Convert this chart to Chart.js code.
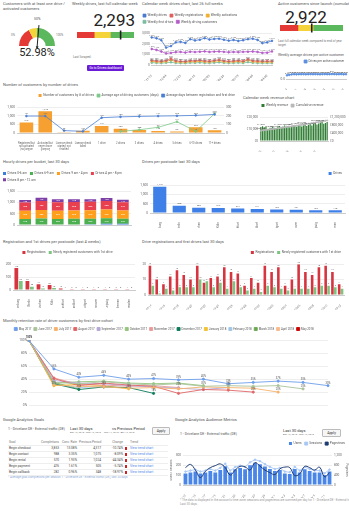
<!DOCTYPE html>
<html>
<head>
<meta charset="utf-8">
<title>Drivers dashboard</title>
<script src="https://cdn.jsdelivr.net/npm/chart.js@4.4.1/dist/chart.umd.min.js"></script>
<style>
  html, body { margin: 0; padding: 0; background: #fff; }
  #page { position: relative; width: 349px; height: 511px; overflow: hidden; font-family: Roboto, "Open Sans", sans-serif; color: #333; }
  .t { position: absolute; font-size: 4px; line-height: 5px; color: #555; white-space: nowrap; }
  .s { position: absolute; font-size: 3px; line-height: 3.6px; color: #777; white-space: nowrap; }
  .big { position: absolute; font-size: 17px; line-height: 17px; color: #222; white-space: nowrap; }
  canvas { position: absolute; }
  .btn { position: absolute; background: #6a1bd6; color: #fff; font-size: 3px; line-height: 6px; text-align: center; border-radius: 1px; }
  .apply { position: absolute; border: 0.5px solid #bbb; background: #f6f6f6; color: #333; font-size: 3.5px; line-height: 6px; text-align: center; border-radius: 1px; }
  table.ga { position: absolute; border-collapse: collapse; table-layout: fixed; font-size: 3.2px; color: #444; }
  table.ga td, table.ga th { padding: 0 1px; height: 5px; line-height: 5px; white-space: nowrap; overflow: hidden; border-bottom: 0.5px solid #eee; }
  table.ga th { font-weight: normal; color: #777; }
  table.ga td.n, table.ga th.n { text-align: right; }
  .flag { display: inline-block; width: 2px; height: 3px; background: #d02020; vertical-align: middle; }
  .trend { color: #4a86e8; }
</style>
</head>
<body>
<div id="page">
  <!-- titles and headline numbers -->
  <div class="t" style="left:3px;top:1px;">Customers with at least one drive /<br>activated customers</div>
  <div class="s" style="left:34px;top:18px;font-size:3.5px;color:#555;">50%</div>
  <div class="s" style="left:11px;top:34px;">0%</div>
  <div class="s" style="left:56px;top:34px;">100%</div>
  <div class="big" id="shareText" style="left:0;width:74px;text-align:center;top:47px;font-size:11px;line-height:11px;"></div>

  <div class="t" style="left:72px;top:1px;">Weekly drives, last full calendar week</div>
  <div class="big" id="weeklyText" style="left:85px;width:50px;text-align:right;top:12px;"></div>
  <div class="s" style="left:73px;top:56px;">Last Scraped:</div>
  <div class="btn" style="left:87px;top:65px;width:37px;height:6px;">Go to Drivers dashboard</div>

  <div class="t" style="left:142px;top:1px;">Calendar week drives chart, last 26 full weeks</div>

  <div class="t" style="left:278px;top:1px;">Active customers since launch (cumulatively)</div>
  <div class="big" id="activeText" style="left:276px;width:60px;text-align:center;top:9px;"></div>
  <div class="s" style="left:278px;top:40px;">Last full calendar week compared to end of year<br>target</div>
  <div class="t" style="left:278px;top:53px;font-size:3.5px;">Weekly average drives per active customer</div>

  <div class="t" style="left:3px;top:82px;">Number of customers by number of drives</div>
  <div class="t" style="left:243px;top:95px;">Calendar week revenue chart</div>

  <div class="t" style="left:3px;top:159px;">Hourly drives per bucket, last 30 days</div>
  <div class="t" style="left:142px;top:159px;">Drives per postcode last 30 days</div>

  <div class="t" style="left:3px;top:239px;">Registration and 1st drives per postcode (last 4 weeks)</div>
  <div class="t" style="left:142px;top:239px;">Drive registrations and first drives last 30 days</div>

  <div class="t" style="left:3px;top:318px;">Monthly retention rate of driver customers by first drive cohort</div>

  <div class="t" style="left:3px;top:417px;">Google Analytics Goals</div>
  <div class="t" style="left:175px;top:417px;">Google Analytics Audience Metrics</div>

  <div class="t" style="left:8px;top:427px;font-size:3.5px;">1 - Drivelane DE - External traffic (DE)</div>
  <div class="t" style="left:70px;top:426px;font-size:4px;color:#333;">Last 30 days</div>
  <div class="s" style="left:70px;top:431px;font-size:2.5px;">Apr 13, 2018 - May 12, 2018</div>
  <div class="t" style="left:112px;top:426px;font-size:4px;color:#333;">vs Previous Period</div>
  <div class="s" style="left:104px;top:431px;font-size:2.5px;">Mar 14, 2018 - Apr 12, 2018</div>
  <div class="apply" style="left:152px;top:427px;width:16px;height:6px;">Apply</div>
  <div class="s" style="left:8px;top:476px;color:#8aa9d6;">* Average goal completions per session 1 - Drivelane DE - External traffic (DE), last 30 days</div>

  <div class="t" style="left:180px;top:432px;font-size:3.5px;">1 - Drivelane DE - External traffic (DE)</div>
  <div class="t" style="left:283px;top:428px;font-size:4px;color:#333;">Last 30 days</div>
  <div class="s" style="left:283px;top:433px;font-size:2.5px;">Apr 13, 2018 - May 12, 2018</div>
  <div class="apply" style="left:322px;top:429px;width:17px;height:6px;">Apply</div>
  <div class="s" style="left:180px;top:499px;color:#999;">* The data is displayed in the account's time zone; sessions and pageviews are summed per day for 1 - Drivelane DE - External traffic (DE).<br>Last 30 days.</div>
</div>

<script>
// ---- headline figures ----
const ACTIVE_SHARE = 52.98;                  // % of activated customers with at least one drive
const SHARE_BANDS = [35, 15, 50];            // red / yellow / green segments of the gauge
const WEEKLY_DRIVES_LAST = 2293;
const WEEKLY_BANDS = [900, 850, 1250];       // red / yellow / green, scale 0..3,000
const WEEKLY_TARGET_TICKS = [0, 2500];
const ACTIVE_CUSTOMERS = 2922;
const ACTIVE_BANDS = [1650, 1400, 2750];     // red / yellow / green, scale 0..5,800
const ACTIVE_TARGET_TICKS = [5000];

// ---- weekly drives (last 26 calendar weeks) ----
const WEEKS = ['2017-11-13','2017-11-20','2017-11-27','2017-12-04','2017-12-11','2017-12-18','2017-12-25','2018-01-01','2018-01-08','2018-01-15','2018-01-22','2018-01-29','2018-02-05','2018-02-12','2018-02-19','2018-02-26','2018-03-05','2018-03-12','2018-03-19','2018-03-26','2018-04-02','2018-04-09','2018-04-16','2018-04-23','2018-04-30','2018-05-07'];
const WEEKLY_DRIVES = [2620, 2540, 2350, 1650, 1800, 2150, 2200, 2100, 2450, 2330, 2400, 2550, 2420, 2480, 2500, 2400, 2310, 2380, 2280, 2350, 2450, 2500, 2380, 2080, 2150, 2293];
const WEEKLY_REGISTRATIONS = [430, 380, 350, 420, 600, 380, 350, 330, 410, 390, 450, 380, 360, 420, 500, 390, 350, 380, 420, 360, 550, 400, 380, 350, 370, 360];
const WEEKLY_ACTIVATIONS = [350, 300, 280, 330, 480, 300, 290, 260, 330, 310, 360, 300, 290, 340, 400, 310, 290, 300, 340, 290, 450, 320, 300, 280, 290, 280];
const WEEKLY_FIRST_DRIVES = [220, 200, 180, 210, 260, 190, 180, 170, 210, 200, 230, 190, 185, 215, 250, 200, 180, 190, 215, 185, 270, 205, 190, 180, 185, 175];
const WEEKLY_DRIVING_CUSTOMERS = [1520, 1430, 1280, 1100, 1150, 1220, 1240, 1180, 1260, 1230, 1260, 1290, 1240, 1270, 1280, 1250, 1210, 1240, 1220, 1250, 1260, 1280, 1240, 1150, 1170, 1290];
const DRIVES_PER_ACTIVE = [0.62, 0.70, 0.78, 0.80, 0.79, 0.81, 0.80, 0.82, 0.79, 0.81, 0.83, 0.80, 0.82, 0.81, 0.79, 0.82, 0.83, 0.80, 0.81, 0.84, 0.82, 0.80, 0.81, 0.83, 0.79, 0.80];

// ---- customers by number of drives ----
const DRIVE_BUCKETS = [
  ['Registered but', 'not activated', '(no licence', 'check)'],
  ['Activated but', 'never drove', '(licence', 'checked)'],
  ['Licence check', 'started, not', 'finished'],
  ['Licence check', 'failed'],
  '1 drive', '2 drives', '3 drives', '4 drives', '5 drives', '6-10 drives', '11+ drives'
];
const CUSTOMERS_PER_BUCKET = [610, 1270, 20, 130, 410, 250, 170, 110, 80, 330, 160];
const AVG_DAYS_TO_FIRST_DRIVE = [197, 197, 28, 19, 178, 188, 193, 197, 200, 205, 216];
const AVG_AGE_DAYS = [null, null, null, null, null, 19, 38, 66, 131, 19, 225];

// ---- weekly revenue ----
const REVENUE_WEEKS = ['2017-32','2017-33','2017-34','2017-35','2017-36','2017-37','2017-38','2017-39','2017-40','2017-41','2017-42','2017-43','2017-44','2017-45','2017-46','2017-47','2017-48','2017-49','2017-50','2017-51','2017-52','2018-01','2018-02','2018-03','2018-04','2018-05','2018-06','2018-07','2018-08','2018-09','2018-10','2018-11','2018-12','2018-13','2018-14','2018-15','2018-16','2018-17','2018-18','2018-19'];
const WEEKLY_REVENUE = [11800, 12400, 11500, 12100, 9800, 10500, 11200, 12000, 11000, 10800, 11900, 12600, 11300, 12200, 13000, 11800, 12500, 11600, 12300, 13100, 12800, 12000, 13400, 12900, 12100, 13200, 13800, 12600, 13500, 14200, 13000, 14600, 15200, 13900, 14800, 15600, 17200, 14500, 15100, 16000];
const CUMULATIVE_REVENUE = [520000, 533000, 546000, 558000, 569000, 580000, 592000, 604000, 616000, 627000, 639000, 652000, 664000, 676000, 689000, 701000, 714000, 726000, 739000, 752000, 765000, 778000, 791000, 804000, 817000, 830000, 844000, 857000, 871000, 885000, 899000, 914000, 929000, 943000, 958000, 974000, 991000, 1006000, 1021000, 1037000];

// ---- hourly buckets ----
const WEEKDAYS = ['Monday', 'Tuesday', 'Wednesday', 'Thursday', 'Friday', 'Saturday', 'Sunday'];
const HOUR_BUCKETS = ['Drives 0-6 am', 'Drives 6-9 am', 'Drives 9 am - 4 pm', 'Drives 4 pm - 8 pm', 'Drives 8 pm - 12 am'];
const DRIVES_NIGHT = [25, 22, 20, 24, 30, 58, 52];
const DRIVES_MORNING = [245, 270, 250, 255, 250, 240, 230];
const DRIVES_DAY = [365, 380, 370, 365, 375, 390, 360];
const DRIVES_EVENING = [365, 400, 380, 385, 380, 385, 370];
const DRIVES_LATE = [120, 140, 130, 125, 120, 135, 110];

// ---- postcodes ----
const POSTCODES = ['20095 Hamburg', '10115 Berlin', '80331 München', '50667 Köln', '60311 Frankfurt', '40213 Düsseldorf', '70173 Stuttgart', '30159 Hannover', '04109 Leipzig', '28195 Bremen'];
const DRIVES_PER_POSTCODE = [1410, 388, 280, 272, 247, 211, 190, 181, 152, 148];
const REG_POSTCODES = ['Hamburg', 'Berlin', 'München', 'Köln', 'Frankfurt', 'Düsseldorf', 'Stuttgart', 'Hannover', 'Leipzig', 'Bremen', 'Dresden'];
const REGISTRATIONS_PER_POSTCODE = [170, 69, 44, 38, 12, 2, 1, 1, 1, 2, 1];
const FIRST_DRIVES_PER_POSTCODE = [69, 25, 12, 15, 4, 0, 0, 0, 0, 0, 0];

// ---- daily registrations (last 30 days) ----
const DAYS = ['2018-04-14','2018-04-15','2018-04-16','2018-04-17','2018-04-18','2018-04-19','2018-04-20','2018-04-21','2018-04-22','2018-04-23','2018-04-24','2018-04-25','2018-04-26','2018-04-27','2018-04-28','2018-04-29','2018-04-30','2018-05-01','2018-05-02','2018-05-03','2018-05-04','2018-05-05','2018-05-06','2018-05-07','2018-05-08','2018-05-09','2018-05-10','2018-05-11','2018-05-12'];
const DAILY_REGISTRATIONS = [19, 10, 7, 12, 16, 13, 10, 19, 8, 11, 12, 18, 15, 14, 6, 11, 8, 19, 15, 18, 6, 10, 20, 15, 13, 18, 19, 15, 7];
const DAILY_FIRST_DRIVES = [6, 1, 4, 3, 5, 5, 5, 10, 9, 5, 8, 4, 9, 5, 3, 4, 2, 6, 5, 4, 3, 4, 4, 4, 5, 6, 6, 5, 4];

// ---- retention by first drive cohort ----
const MONTHS_SINCE = ['0','1','2','3','4','5','6','7','8','9','10','11','12'];
const COHORTS = ['May 2017','June 2017','July 2017','August 2017','September 2017','October 2017','November 2017','December 2017','January 2018','February 2018','March 2018','April 2018','May 2018'];
const RET_MAY17 = [100, 56, 43, 46, 40, 41, 39, 40, 33, 35, 37, 35, 30];
const RET_JUN17 = [100, 35, 33, 36, 33, 31, 33, 29, 30, 29, 30, 25];
const RET_JUL17 = [100, 31, 29, 28, 26, 27, 25, 28, 27, 26, 20];
const RET_AUG17 = [100, 41, 30, 34, 31, 29, 18, 24, 23, 20];
const RET_SEP17 = [100, 38, 34, 33, 30, 28, 26, 24, 27];
const RET_OCT17 = [100, 34, 36, 37, 34, 33, 34, 30];
const RET_NOV17 = [100, 42, 32, 31, 29, 30, 27];
const RET_DEC17 = [100, 33, 24, 28, 27, 18];
const RET_JAN18 = [100, 30, 32, 30, 25];
const RET_FEB18 = [100, 32, 27, 29];
const RET_MAR18 = [100, 35, 25];
const RET_APR18 = [100, 30];
const RET_MAY18 = [100];

// ---- Google Analytics ----
const GOALS = ['Begin checkout', 'Begin contact', 'Begin rental', 'Begin payment', 'Begin callback'];
const GOAL_COMPLETIONS = ['3,853', '988', '570', '476', '282'];
const GOAL_CONV_RATES = ['13.08%', '3.35%', '1.93%', '1.61%', '0.96%'];
const GOAL_PREVIOUS = ['4,317', '1,075', '1,024', '505', '348'];
const GOAL_CHANGES = ['-10.74%', '-8.09%', '-44.34%', '-5.74%', '-18.97%'];
const GA_DAYS = ['Apr 13','Apr 14','Apr 15','Apr 16','Apr 17','Apr 18','Apr 19','Apr 20','Apr 21','Apr 22','Apr 23','Apr 24','Apr 25','Apr 26','Apr 27','Apr 28','Apr 29','Apr 30','May 1','May 2','May 3','May 4','May 5','May 6','May 7','May 8','May 9','May 10','May 11','May 12'];
const GA_USERS = [115, 125, 135, 115, 125, 140, 125, 150, 190, 125, 158, 170, 158, 200, 225, 210, 185, 160, 140, 150, 115, 110, 160, 125, 158, 140, 125, 125, 100, 135];
const GA_SESSIONS = [135, 145, 155, 135, 145, 160, 145, 172, 215, 145, 180, 195, 180, 228, 255, 240, 210, 182, 160, 172, 135, 128, 182, 145, 180, 160, 145, 145, 118, 155];
const GA_PAGEVIEWS = [700, 830, 600, 300, 550, 700, 780, 850, 700, 400, 600, 750, 730, 600, 900, 760, 600, 500, 420, 650, 720, 700, 380, 450, 750, 700, 600, 720, 330, 500];

// ---------------------------------------------------------------
const fmt = v => Number(v).toLocaleString('en-US');
document.getElementById('shareText').textContent = ACTIVE_SHARE.toFixed(2) + '%';
document.getElementById('weeklyText').textContent = fmt(WEEKLY_DRIVES_LAST);
document.getElementById('activeText').textContent = fmt(ACTIVE_CUSTOMERS);

Chart.defaults.font.family = 'Roboto, "Open Sans", sans-serif';
Chart.defaults.font.size = 3.5;
Chart.defaults.color = '#666';
Chart.defaults.animation = false;
Chart.defaults.plugins.tooltip.enabled = false;

// small value labels next to points / on bars
Chart.register({
  id: 'valueLabels',
  afterDatasetsDraw(chart, args, o) {
    if (!o || !o.enabled) return;
    const ctx = chart.ctx;
    ctx.save();
    ctx.font = (o.size || 3) + 'px Roboto, sans-serif';
    ctx.textAlign = 'center';
    chart.data.datasets.forEach((ds, i) => {
      const mode = ds.labelMode || 'all';
      if (mode === 'none') return;
      const meta = chart.getDatasetMeta(i);
      if (meta.hidden) return;
      meta.data.forEach((el, j) => {
        const v = ds.data[j];
        if (v == null) return;
        if (mode === 'last' && j !== ds.data.length - 1) return;
        if (typeof mode === 'number' && j % mode !== 0) return;
        const txt = o.fmt ? o.fmt(v) : fmt(v);
        ctx.fillStyle = ds.labelColor || o.color || '#555';
        if (o.inside) {
          ctx.textBaseline = 'middle';
          ctx.fillText(txt, el.x, (el.y + el.base) / 2);
        } else {
          ctx.textBaseline = 'bottom';
          ctx.fillText(txt, el.x, el.y - (o.offset || 1));
        }
      });
    });
    ctx.restore();
  }
});

// current-value marker on horizontal gauges
Chart.register({
  id: 'marker',
  afterDatasetsDraw(chart, args, o) {
    if (!o || o.value == null) return;
    const x = chart.scales.x.getPixelForValue(o.value);
    const a = chart.chartArea;
    chart.ctx.save();
    chart.ctx.fillStyle = '#222';
    chart.ctx.fillRect(x - 0.8, a.top - 1.5, 1.6, a.bottom - a.top + 3);
    chart.ctx.restore();
  }
});

// needle on the half-doughnut gauge
Chart.register({
  id: 'needle',
  afterDatasetsDraw(chart, args, o) {
    if (!o || o.value == null) return;
    const arc = chart.getDatasetMeta(0).data[0];
    const cx = arc.x, cy = arc.y, r = arc.outerRadius;
    const ang = Math.PI + o.value / 100 * Math.PI;
    const tx = cx + Math.cos(ang) * (r + 3), ty = cy + Math.sin(ang) * (r + 3);
    const bx = cx, by = cy + 3;
    const ctx = chart.ctx;
    ctx.save();
    ctx.strokeStyle = '#222'; ctx.fillStyle = '#222'; ctx.lineWidth = 1;
    ctx.beginPath(); ctx.moveTo(tx, ty); ctx.lineTo(bx, by - 1); ctx.stroke();
    const d = Math.atan2(by - ty, bx - tx);
    ctx.beginPath();
    ctx.moveTo(bx, by);
    ctx.lineTo(bx - Math.cos(d - 0.5) * 3, by - Math.sin(d - 0.5) * 3);
    ctx.lineTo(bx - Math.cos(d + 0.5) * 3, by - Math.sin(d + 0.5) * 3);
    ctx.closePath(); ctx.fill();
    ctx.restore();
  }
});

const page = document.getElementById('page');
function mk(x, y, w, h, cfg) {
  const c = document.createElement('canvas');
  c.width = w; c.height = h;
  c.style.left = x + 'px'; c.style.top = y + 'px';
  c.style.width = w + 'px'; c.style.height = h + 'px';
  page.appendChild(c);
  cfg.options = cfg.options || {};
  cfg.options.responsive = false;
  cfg.options.maintainAspectRatio = false;
  cfg.options.devicePixelRatio = 1;
  return new Chart(c, cfg);
}
const legend = (align, extra) => Object.assign({
  display: true, align,
  labels: { boxWidth: 3, boxHeight: 3, padding: 3, font: { size: 3.2 }, color: '#555' }
}, extra || {});
const yScale = (width, min, max, step, cb, extra) => Object.assign({
  min, max,
  grid: { color: '#eeeeee', drawTicks: false },
  border: { display: false },
  ticks: { stepSize: step, padding: 2, font: { size: 3.2 }, callback: cb || (v => fmt(v)) },
  afterFit(s) { s.width = width; }
}, extra || {});
const xScale = (height, rot, extra) => Object.assign({
  grid: { display: false },
  border: { color: '#ccc' },
  ticks: { minRotation: rot, maxRotation: rot, padding: 1, font: { size: 3 } },
  afterFit(s) { s.height = height; }
}, extra || {});
const line = (label, data, color, extra) => Object.assign({
  type: 'line', label, data, borderColor: color, backgroundColor: color,
  borderWidth: 0.8, pointRadius: 0.9, pointHoverRadius: 0, tension: 0
}, extra || {});
const bandColors = ['#e53935', '#f5d33b', '#5cb85c'];

// ---- gauge: share of activated customers with a drive ----
mk(15, 22, 44, 30, {
  type: 'doughnut',
  data: { labels: ['Low', 'Medium', 'Good'], datasets: [{ data: SHARE_BANDS, backgroundColor: bandColors, borderWidth: 0 }] },
  options: {
    circumference: 180, rotation: -90, cutout: '48%',
    layout: { padding: { left: 4, right: 4, top: 6, bottom: 6 } },
    plugins: { legend: { display: false }, needle: { value: ACTIVE_SHARE } }
  }
});

// ---- horizontal gauges ----
function barGauge(x, y, w, bands, max, ticks, value, pad) {
  return mk(x, y, w, 16, {
    type: 'bar',
    data: { labels: [''], datasets: bands.map((v, i) => ({ data: [v], backgroundColor: bandColors[i], barPercentage: 1, categoryPercentage: 1 })) },
    options: {
      indexAxis: 'y',
      layout: { padding: pad },
      plugins: { legend: { display: false }, marker: { value } },
      scales: {
        x: {
          stacked: true, min: 0, max,
          grid: { display: false }, border: { display: false },
          afterBuildTicks(s) { s.ticks = ticks.map(v => ({ value: v })); },
          ticks: { padding: 2, font: { size: 4 }, color: '#555', callback: v => fmt(v) },
          afterFit(s) { s.height = 8; }
        },
        y: { stacked: true, display: false }
      }
    }
  });
}
barGauge(74, 30, 64, WEEKLY_BANDS, 3000, WEEKLY_TARGET_TICKS, WEEKLY_DRIVES_LAST, { left: 3, right: 4, top: 2 });
barGauge(276, 23, 73, ACTIVE_BANDS, 5800, ACTIVE_TARGET_TICKS, ACTIVE_CUSTOMERS, { left: 4, right: 6, top: 2 });

// ---- weekly drives lines ----
mk(140, 9, 135, 72, {
  type: 'line',
  data: {
    labels: WEEKS, datasets: [
      line('Weekly drives', WEEKLY_DRIVES, '#4a7bd0'),
      line('Weekly registrations', WEEKLY_REGISTRATIONS, '#e06060'),
      line('Weekly activations', WEEKLY_ACTIVATIONS, '#f0b030'),
      line('Weekly first drives', WEEKLY_FIRST_DRIVES, '#7bbfa0'),
      line('Weekly driving customers', WEEKLY_DRIVING_CUSTOMERS, '#b45cc8')
    ]
  },
  options: {
    layout: { padding: { top: 2, right: 3 } },
    plugins: { legend: legend('start'), valueLabels: { enabled: true, size: 2.2, color: '#777' } },
    scales: {
      x: xScale(16, 45, { ticks: { minRotation: 45, maxRotation: 45, padding: 1, font: { size: 3 }, autoSkip: true, maxTicksLimit: 9 } }),
      y: yScale(11, 0, 3000, 1000)
    }
  }
});

// ---- drives per active customer ----
mk(276, 58, 73, 32, {
  type: 'line',
  data: { labels: WEEKS, datasets: [line('Drives per active customer', DRIVES_PER_ACTIVE, '#5b8fe0')] },
  options: {
    layout: { padding: { right: 3 } },
    plugins: { legend: legend('end', { labels: { boxWidth: 3, boxHeight: 3, padding: 2, font: { size: 3 }, color: '#555' } }), valueLabels: { enabled: true, size: 2, fmt: v => v.toFixed(2) } },
    scales: {
      x: xScale(11, 45, { ticks: { minRotation: 45, maxRotation: 45, padding: 1, font: { size: 2.8 }, autoSkip: true, maxTicksLimit: 12 } }),
      y: yScale(8, 0, 1, 0.5, v => v.toFixed(1))
    }
  }
});

// ---- customers by number of drives ----
mk(0, 89, 240, 62, {
  data: {
    labels: DRIVE_BUCKETS, datasets: [
      line('Average days between registration and first drive', AVG_DAYS_TO_FIRST_DRIVE, '#4a7fd4', { yAxisID: 'y1', order: 1 }),
      line('Average age of driving customers (days)', AVG_AGE_DAYS, '#7fc98a', { yAxisID: 'y1', order: 2 }),
      { type: 'bar', label: 'Number of customers by # of drives', data: CUSTOMERS_PER_BUCKET, backgroundColor: '#f5a030', yAxisID: 'y', order: 3, barPercentage: 0.85, categoryPercentage: 0.85 }
    ]
  },
  options: {
    layout: { padding: { top: 2, right: 2 } },
    plugins: {
      legend: legend('end', { reverse: true }),
      valueLabels: { enabled: true, size: 2.4, color: '#666' }
    },
    scales: {
      x: xScale(18, 0, { ticks: { minRotation: 0, maxRotation: 0, padding: 1, font: { size: 2.6, lineHeight: 1.1 }, autoSkip: false } }),
      y: yScale(17, 0, 1500, 500),
      y1: yScale(14, 0, 300, 100, null, { position: 'right', grid: { display: false, drawTicks: false } })
    }
  }
});

// ---- weekly revenue ----
mk(236, 100, 113, 52, {
  data: {
    labels: REVENUE_WEEKS, datasets: [
      line('Cumulative revenue', CUMULATIVE_REVENUE, '#b8b8b8', { yAxisID: 'y1', order: 1, pointRadius: 0.6, labelMode: 8 }),
      { type: 'bar', label: 'Weekly revenue', data: WEEKLY_REVENUE, backgroundColor: '#2e7d32', yAxisID: 'y', order: 2, barPercentage: 0.8, categoryPercentage: 0.9, labelMode: 5 }
    ]
  },
  options: {
    layout: { padding: { top: 1 } },
    plugins: {
      legend: legend('center', { reverse: true }),
      valueLabels: { enabled: true, size: 2.2, color: '#555', fmt: v => '€' + fmt(v) }
    },
    scales: {
      x: xScale(11, 45, { ticks: { minRotation: 45, maxRotation: 45, padding: 1, font: { size: 2.8 }, autoSkip: true, maxTicksLimit: 5 } }),
      y: yScale(24, 0, 20000, 10000, v => '€' + fmt(v)),
      y1: yScale(21, 0, 1200000, 400000, v => '€' + fmt(v), { position: 'right', grid: { display: false, drawTicks: false } })
    }
  }
});

// ---- hourly buckets, stacked ----
const stackColors = ['#3b7ddd', '#4caf50', '#ff9f1c', '#e8404f', '#7e3fa6'];
mk(0, 166, 137, 66, {
  type: 'bar',
  data: {
    labels: WEEKDAYS,
    datasets: [DRIVES_NIGHT, DRIVES_MORNING, DRIVES_DAY, DRIVES_EVENING, DRIVES_LATE].map((d, i) => ({
      label: HOUR_BUCKETS[i], data: d, backgroundColor: stackColors[i], barPercentage: 0.8, categoryPercentage: 0.9,
      labelMode: i === 0 ? 'none' : 'all'
    }))
  },
  options: {
    layout: { padding: { top: 3, right: 6 } },
    plugins: { legend: legend('start'), valueLabels: { enabled: true, size: 2.4, color: '#fff', inside: true } },
    scales: {
      x: xScale(7, 0, { stacked: true }),
      y: yScale(17, 0, 1500, 500, null, { stacked: true })
    }
  }
});

// ---- drives per postcode ----
mk(138, 166, 211, 62, {
  type: 'bar',
  data: { labels: POSTCODES, datasets: [{ label: 'Drives', data: DRIVES_PER_POSTCODE, backgroundColor: '#3f7fe8', barPercentage: 0.75, categoryPercentage: 0.9 }] },
  options: {
    layout: { padding: { top: 3, right: 4 } },
    plugins: { legend: legend('end'), valueLabels: { enabled: true, size: 2.4 } },
    scales: {
      x: xScale(15, 90),
      y: yScale(12, 0, 1500, 500)
    }
  }
});

// ---- registrations and first drives per postcode ----
mk(0, 246, 138, 62, {
  type: 'bar',
  data: {
    labels: REG_POSTCODES, datasets: [
      { label: 'Registrations', data: REGISTRATIONS_PER_POSTCODE, backgroundColor: '#d6343f', barPercentage: 0.85, categoryPercentage: 0.8 },
      { label: 'Newly registered customers with 1st drive', data: FIRST_DRIVES_PER_POSTCODE, backgroundColor: '#7cc47f', barPercentage: 0.85, categoryPercentage: 0.8 }
    ]
  },
  options: {
    layout: { padding: { top: 2, right: 3 } },
    plugins: { legend: legend('center'), valueLabels: { enabled: true, size: 2.2 } },
    scales: {
      x: xScale(18, 90),
      y: yScale(13, 0, 200, 100)
    }
  }
});

// ---- daily registrations and first drives ----
mk(138, 246, 211, 64, {
  type: 'bar',
  data: {
    labels: DAYS, datasets: [
      { label: 'Registrations', data: DAILY_REGISTRATIONS, backgroundColor: '#d6343f', barPercentage: 0.9, categoryPercentage: 0.85 },
      { label: 'Newly registered customers with 1st drive', data: DAILY_FIRST_DRIVES, backgroundColor: '#7cc47f', barPercentage: 0.9, categoryPercentage: 0.85 }
    ]
  },
  options: {
    layout: { padding: { top: 2, right: 5 } },
    plugins: { legend: legend('end'), valueLabels: { enabled: true, size: 2 } },
    scales: {
      x: xScale(15, 45, { ticks: { minRotation: 45, maxRotation: 45, padding: 1, font: { size: 2.8 }, autoSkip: true, maxTicksLimit: 15 } }),
      y: yScale(10, 0, 20, 10)
    }
  }
});

// ---- retention by cohort ----
const cohortColors = ['#6d9eeb', '#a9c39a', '#f6b26b', '#e06666', '#b4a7d6', '#93c47d', '#ea9999', '#0b7a5a', '#f1c232', '#9fc5e8', '#6aa84f', '#f9b98c', '#cc0000'];
const cohortData = [RET_MAY17, RET_JUN17, RET_JUL17, RET_AUG17, RET_SEP17, RET_OCT17, RET_NOV17, RET_DEC17, RET_JAN18, RET_FEB18, RET_MAR18, RET_APR18, RET_MAY18];
mk(0, 324, 349, 88, {
  type: 'line',
  data: {
    labels: MONTHS_SINCE,
    datasets: cohortData.map((d, i) => line(COHORTS[i], d, cohortColors[i], {
      borderWidth: 0.9, pointRadius: 1.1, labelMode: i === 0 ? 'all' : 'last', order: i
    }))
  },
  options: {
    layout: { padding: { top: 1, right: 21 } },
    plugins: {
      legend: legend('center', { labels: { boxWidth: 3, boxHeight: 3, padding: 2.5, font: { size: 2.9 }, color: '#555' } }),
      valueLabels: { enabled: true, size: 2.6, color: '#555', offset: 1.5, fmt: v => v + '%' }
    },
    scales: {
      x: xScale(7, 0, { grid: { display: false }, border: { display: false } }),
      y: yScale(29, 0, 100, 20, v => v + '%')
    }
  }
});

// ---- goals table ----
(function () {
  const tbl = document.createElement('table');
  tbl.className = 'ga';
  tbl.style.left = '8px'; tbl.style.top = '440px'; tbl.style.width = '160px';
  const widths = [32, 20, 18, 24, 22, 5, 39];
  let h = '<colgroup>' + widths.map(w => '<col style="width:' + w + 'px">').join('') + '</colgroup>';
  h += '<tr><th style="text-align:left">Goal</th><th class="n">Completions</th><th class="n">Conv. Rate</th><th class="n">Previous Period</th><th class="n">Change</th><th></th><th style="text-align:left">Trend</th></tr>';
  GOALS.forEach((g, i) => {
    h += '<tr><td>' + g + '</td><td class="n">' + GOAL_COMPLETIONS[i] + '</td><td class="n">' + GOAL_CONV_RATES[i] +
      '</td><td class="n">' + GOAL_PREVIOUS[i] + '</td><td class="n">' + GOAL_CHANGES[i] +
      '</td><td><span class="flag"></span></td><td class="trend">View trend chart</td></tr>';
  });
  tbl.innerHTML = h;
  page.appendChild(tbl);
})();

// ---- audience metrics ----
mk(170, 437, 179, 61, {
  data: {
    labels: GA_DAYS, datasets: [
      line('Sessions', GA_SESSIONS, '#a8c7f5', { yAxisID: 'y', order: 2, pointRadius: 0.8, borderWidth: 0.9 }),
      line('Pageviews', GA_PAGEVIEWS, '#1f3b73', { yAxisID: 'y1', order: 1, pointRadius: 0, borderWidth: 1, tension: 0.4 }),
      { type: 'bar', label: 'Users', data: GA_USERS, backgroundColor: '#4a86e8', yAxisID: 'y', order: 3, barPercentage: 0.85, categoryPercentage: 0.9 }
    ]
  },
  options: {
    layout: { padding: { top: 2, right: 1 } },
    plugins: { legend: legend('end', { reverse: true }) },
    scales: {
      x: xScale(13, 45, { ticks: { minRotation: 45, maxRotation: 45, padding: 1, font: { size: 2.8 }, autoSkip: true, maxTicksLimit: 15 } }),
      y: yScale(13, 0, 300, 100, null, { title: { display: true, text: 'Users / Sessions', font: { size: 2.8 }, padding: 0 } }),
      y1: yScale(16, 0, 1200, 400, null, { position: 'right', grid: { display: false, drawTicks: false }, title: { display: true, text: 'Pageviews', font: { size: 2.8 }, padding: 0 } })
    }
  }
});
</script>
</body>
</html>
